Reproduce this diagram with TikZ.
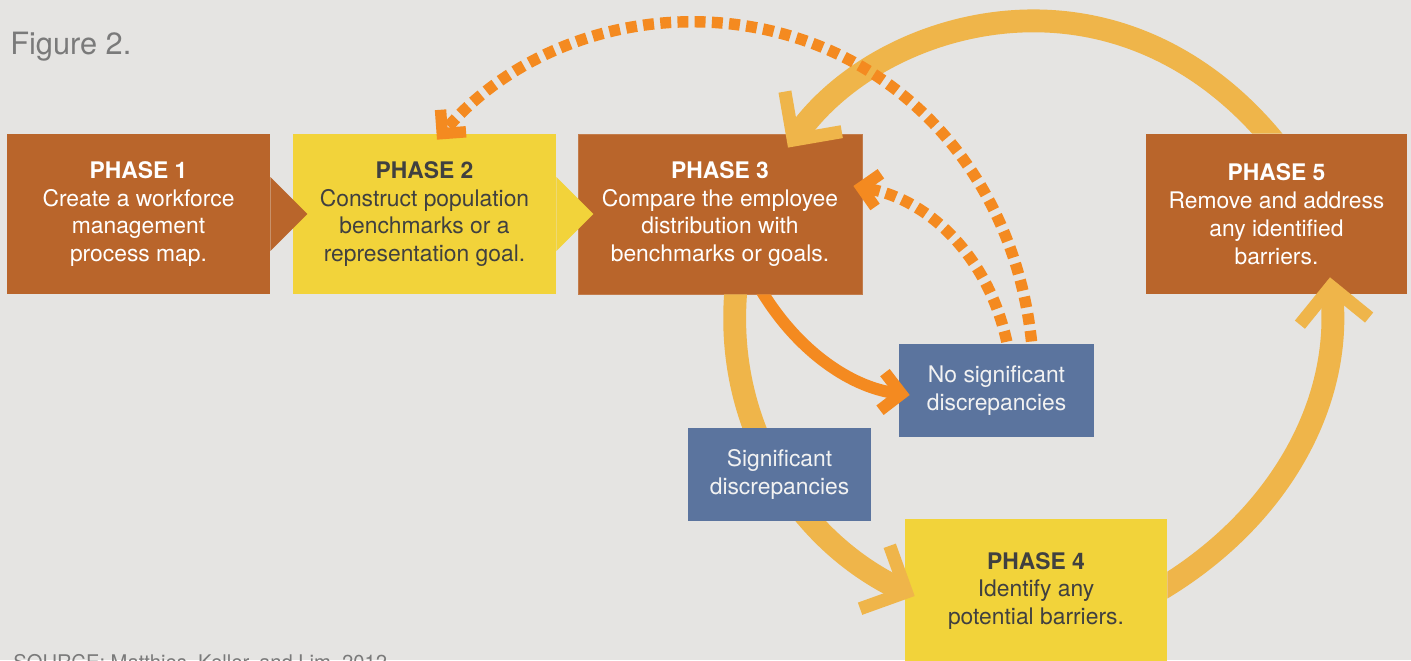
\documentclass[tikz,border=0pt]{standalone}
\usepackage{fontspec}
\setmainfont{TeX Gyre Heros}
\usetikzlibrary{arrows.meta,calc}

\definecolor{bgcol}{HTML}{E5E4E2}
\definecolor{brownbox}{HTML}{B9652B}
\definecolor{yellowbox}{HTML}{F2D33A}
\definecolor{bluebox}{HTML}{5B749E}
\definecolor{loopcol}{HTML}{EFB54A}
\definecolor{checkcol}{HTML}{F48A20}
\definecolor{darktext}{HTML}{404040}
\definecolor{titlegray}{HTML}{7A7A7A}

% clip everything but the inside of a box, so a connector leaves from under it
\newcommand{\outsidebox}[1]{%
    \clip (-10,-10) -- (1420,-10) -- (1420,700) -- (-10,700) -- cycle
        (#1.north west) -- (#1.south west) -- (#1.south east) -- (#1.north east) -- cycle;}

\begin{document}
\begin{tikzpicture}[
        x=0.02cm, y=-0.02cm,
        box/.style={rectangle, inner sep=0pt, align=center, minimum height=3.2cm, font=\fontsize{13}{15.9}\selectfont},
        phasebrown/.style={box, fill=brownbox, text=white},
        phaseyellow/.style={box, fill=yellowbox, text=darktext},
        result/.style={box, fill=bluebox, text=white!95!black, minimum height=1.86cm},
        loop/.style={draw=loopcol, line width=13pt, -{Straight Barb[length=19.8pt, width=39.6pt, line width=7.4pt 0]}},
        check/.style={draw=checkcol, line width=6.8pt, -{Straight Barb[length=10.8pt, width=21.6pt, line width=6.8pt 0]}},
        recheck/.style={draw=checkcol, line width=6.5pt, dash pattern=on 6.2pt off 3.6pt, -{Straight Barb[length=9.6pt, width=19.2pt, line width=6.5pt 0]}}
    ]
        \useasboundingbox (0,0) rectangle (1411,660);
        \fill[bgcol] (0,0) rectangle (1411,660);

        % Titles
        \node[anchor=base west, inner sep=0pt, text=titlegray, font=\fontsize{17.5}{20}\selectfont] (title) at (10,54) {Figure 2.};
        \node[anchor=north west, inner sep=0pt, text=titlegray, font=\fontsize{11.5}{14}\selectfont] (source) at (13,654) {SOURCE: Matthies, Keller, and Lim, 2012};

        % Phases
        \node[phasebrown, minimum width=5.26cm] (p1) at (138.5,214) {\textbf{PHASE 1}\\Create a workforce\\management\\process map.};
        \node[phaseyellow, minimum width=5.26cm] (p2) at (424.5,214) {\textbf{PHASE 2}\\Construct population\\benchmarks or a\\representation goal.};
        \node[phasebrown, minimum width=5.68cm, draw=brownbox!85!white, line width=0.5pt] (p3) at (720,214) {\textbf{PHASE 3}\\Compare the employee\\distribution with\\benchmarks or goals.};
        \node[phaseyellow, minimum width=5.24cm, minimum height=2.88cm] (p4) at (1036,591) {\textbf{PHASE 4}\\Identify any\\potential barriers.};
        \node[phasebrown, minimum width=5.22cm] (p5) at (1276.5,214) {\textbf{PHASE 5}\\Remove and address\\any identified\\barriers.};
        \node[result, minimum width=3.9cm] (nsig) at (996.5,390.5) {No significant\\discrepancies};

        % Pointers on phase 1 and 2
        \fill[brownbox] (p1.east) ++(0,-37) -- ++(37,37) -- ++(-37,37) -- cycle;
        \fill[yellowbox] (p2.east) ++(0,-37) -- ++(37,37) -- ++(-37,37) -- cycle;

        % Main cycle 3 -> 4 -> 5 -> 3
        \begin{scope}
            \outsidebox{p3}
            \draw[loop] ($(p3.south)+(17,-15)$) .. controls (720,422) and (798,541) .. ($(p4.west)+(10,5)$);
        \end{scope}
        \begin{scope}
            \outsidebox{p4}
            \draw[loop] ($(p4.east)+(-13,2)$) .. controls (1279,521) and (1343,403) .. ($(p5.south)+(53.5,-17)$);
        \end{scope}
        \begin{scope}
            \outsidebox{p5}
            \draw[loop] ($(p5.north)+(1,12)$) .. controls (1209,60) and (1119,18) .. (1024,21)
                .. controls (930,24) and (842,71) .. ($(p3.north)+(68,14)$);
        \end{scope}

        % Check result
        \begin{scope}
            \outsidebox{p3}
            \draw[check] ($(p3.south)+(36,-13)$) .. controls (793,348) and (849,387) .. ($(nsig.west)+(11,4.5)$);
        \end{scope}

        % Back to phase 2 and phase 3
        \begin{scope}
            \outsidebox{nsig}
            \draw[recheck] ($(nsig.north)+(36.5,15)$) .. controls (1023,205) and (931.5,82.7) .. (801,39.3)
                .. controls (670.5,-4.1) and (526.7,35.7) .. ($(p2.north)+(12.5,6)$);
            \draw[recheck] ($(nsig.north)+(13.5,15)$) .. controls (995.4,263.7) and (933.1,200.1) .. ($(p3.east)+(-9,-28)$);
        \end{scope}

        \node[result, minimum width=3.66cm] (sig) at (779.5,474.5) {Significant\\discrepancies};
    \end{tikzpicture}
\end{document}
